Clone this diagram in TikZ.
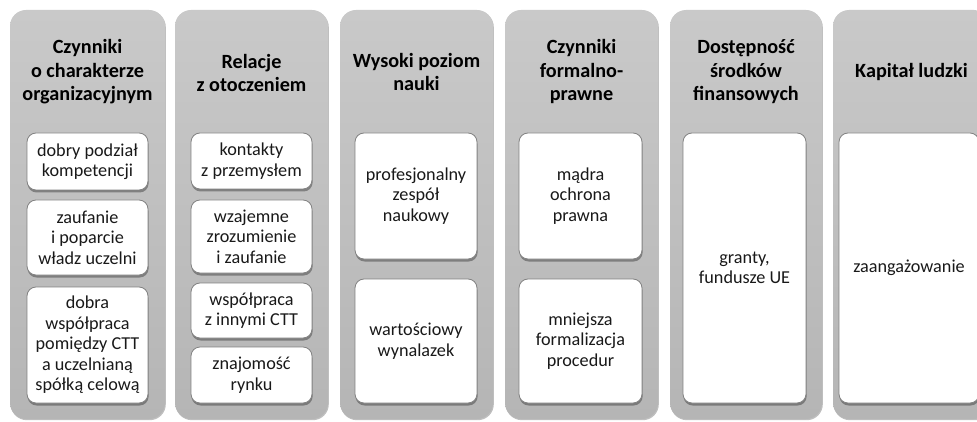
\documentclass[tikz,border=0pt]{standalone}
\usepackage{fontspec}
\setmainfont{Carlito}
\usetikzlibrary{shadows}
\definecolor{coltop}{RGB}{201,201,201}
\definecolor{colbot}{RGB}{181,181,181}
\definecolor{boxborder}{RGB}{130,130,130}
\tikzset{
  column/.style={rounded corners=16pt, top color=coltop, bottom color=colbot, draw=none,
    drop shadow={shadow xshift=0.8pt, shadow yshift=-1.2pt, opacity=0.25, fill=black}},
  title/.style={align=center, font=\fontsize{20.2}{23.5}\selectfont\bfseries, text=black},
  item/.style={rounded corners=9pt, draw=boxborder, line width=0.8pt, fill=white,
    align=center, font=\fontsize{18.2}{20.5}\selectfont, text=black!90, inner sep=0pt,
    drop shadow={shadow xshift=0.6pt, shadow yshift=-2.5pt, opacity=0.45, fill=black!80}},
}
\begin{document}
\begin{tikzpicture}[x=1pt,y=-1pt]
\useasboundingbox (0,0) rectangle (977,422);
\clip (0,0) rectangle (977,422);
% columns
\node[column, minimum width=155pt, minimum height=409pt] (c1) at (87.5,214.5) {};
\node[column, minimum width=153pt, minimum height=409pt] (c2) at (251.5,214.5) {};
\node[column, minimum width=153pt, minimum height=409pt] (c3) at (416.5,214.5) {};
\node[column, minimum width=153pt, minimum height=409pt] (c4) at (581.5,214.5) {};
\node[column, minimum width=152pt, minimum height=409pt] (c5) at (746,214.5) {};
\node[column, minimum width=157pt, minimum height=409pt] (c6) at (911.5,214.5) {};
% titles
\node[title] (t1) at (87.5,72) {Czynniki\\o charakterze\\organizacyjnym};
\node[title] (t2) at (251.5,73) {Relacje\\z otoczeniem};
\node[title] (t3) at (416.5,72) {Wysoki poziom\\nauki};
\node[title] (t4) at (581.5,72) {Czynniki\\formalno-\\prawne};
\node[title] (t5) at (746,72) {Dostępność\\środków\\finansowych};
\node[title] (t6) at (911.5,72) {Kapitał ludzki};
% column 1
\node[item, minimum width=121pt, minimum height=57pt] (a1) at (87.5,161.5) {dobry podział\\kompetencji};
\node[item, minimum width=121pt, minimum height=75pt] (a2) at (87.5,237.5) {zaufanie\\i poparcie\\władz uczelni};
\node[item, minimum width=121pt, minimum height=116pt] (a3) at (87.5,345) {dobra\\współpraca\\pomiędzy CTT\\a uczelnianą\\spółką celową};
% column 2
\node[item, minimum width=121pt, minimum height=56pt] (b1) at (251.5,161) {kontakty\\z przemysłem};
\node[item, minimum width=121pt, minimum height=73pt] (b2) at (251.5,236.5) {wzajemne\\zrozumienie\\i zaufanie};
\node[item, minimum width=121pt, minimum height=55pt] (b3) at (251.5,310.5) {współpraca\\z innymi CTT};
\node[item, minimum width=121pt, minimum height=56pt] (b4) at (251.5,375) {znajomość\\rynku};
% column 3
\node[item, minimum width=122pt, minimum height=126pt] (d1) at (416,196) {profesjonalny\\zespół\\naukowy};
\node[item, minimum width=122pt, minimum height=124pt] (d2) at (416,341) {wartościowy\\wynalazek};
% column 4
\node[item, minimum width=123pt, minimum height=126pt] (e1) at (580.5,196) {mądra\\ochrona\\prawna};
\node[item, minimum width=123pt, minimum height=124pt] (e2) at (580.5,341) {mniejsza\\formalizacja\\procedur};
% column 5
\node[item, minimum width=123pt, minimum height=270pt] (f1) at (744.5,268) {granty,\\fundusze UE};
% column 6
\node[item, minimum width=140pt, minimum height=270pt] (g1) at (909,268) {zaangażowanie};
\end{tikzpicture}
\end{document}
